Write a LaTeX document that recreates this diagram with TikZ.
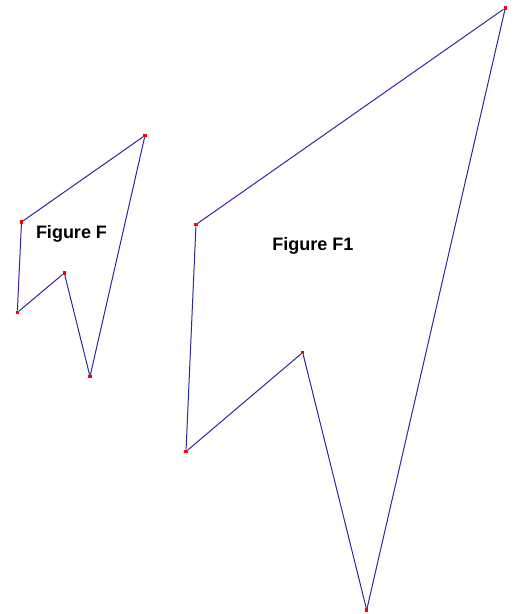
\documentclass[tikz,border=0pt]{standalone}
\usepackage{fontspec}
\setmainfont{Liberation Sans}
\definecolor{edgeblue}{RGB}{40,40,160}

\begin{document}
\begin{tikzpicture}[
    x=1pt, y=-1pt,
    vertex/.style={rectangle, fill=red, draw=none, inner sep=0pt, minimum size=3.2pt},
    edge/.style={draw=edgeblue, line width=1pt},
    figtitle/.style={font=\fontsize{18}{20}\selectfont\bfseries}
]
\useasboundingbox (0,0) rectangle (517,614);

% Figure F
\node[vertex] (fa) at (21.5,222) {};
\node[vertex] (fb) at (145,135.5) {};
\node[vertex] (fc) at (90,376.5) {};
\node[vertex] (fd) at (64.3,273) {};
\node[vertex] (fe) at (17.3,312.5) {};
\node[figtitle] (ftitle) at (71.5,234) {Figure F};

\draw[edge] (fa) -- (fb);
\draw[edge] (fb) -- (fc);
\draw[edge] (fc) -- (fd);
\draw[edge] (fd) -- (fe);
\draw[edge] (fe) -- (fa);

% Figure F1
\node[vertex] (ga) at (196,224.5) {};
\node[vertex] (gb) at (505.3,8) {};
\node[vertex] (gc) at (366.7,610) {};
\node[vertex] (gd) at (302.7,352.5) {};
\node[vertex] (ge) at (186,451.5) {};
\node[figtitle] (gtitle) at (313,245.5) {Figure F1};

\draw[edge] (ga) -- (gb);
\draw[edge] (gb) -- (gc);
\draw[edge] (gc) -- (gd);
\draw[edge] (gd) -- (ge);
\draw[edge] (ge) -- (ga);

\end{tikzpicture}
\end{document}
